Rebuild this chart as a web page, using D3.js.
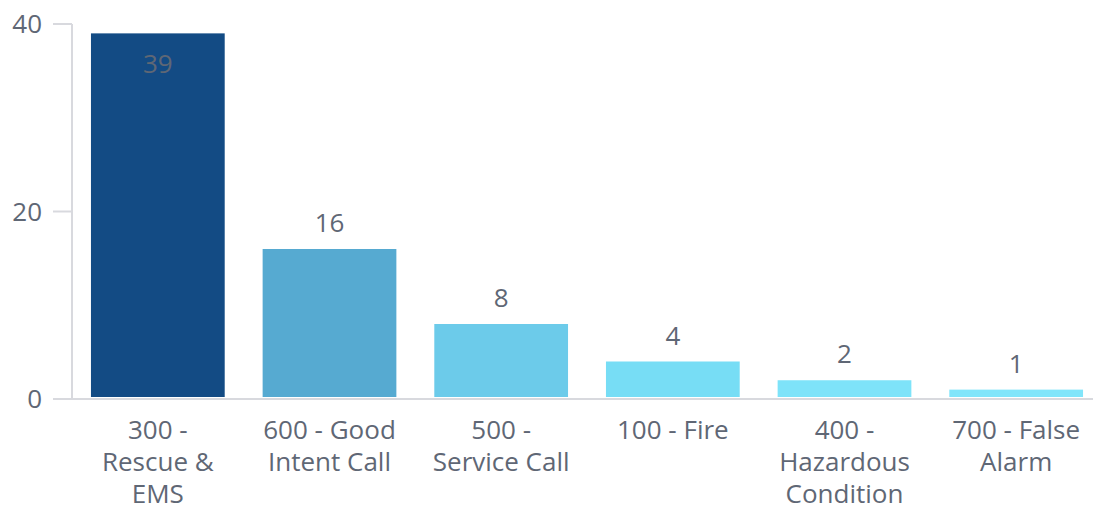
<!DOCTYPE html>
<html>
<head>
<meta charset="utf-8">
<style>
body { margin: 0; background: #fff; }
text { font-family: "Open Sans", sans-serif; }
</style>
</head>
<body>
<svg width="1093" height="510"></svg>
<script src="https://cdn.jsdelivr.net/npm/d3@7/dist/d3.min.js"></script>
<script>
var categories = ["300 - Rescue & EMS", "600 - Good Intent Call", "500 - Service Call", "100 - Fire", "400 - Hazardous Condition", "700 - False Alarm"];
var labelLines = [["300 -", "Rescue &", "EMS"], ["600 - Good", "Intent Call"], ["500 -", "Service Call"], ["100 - Fire"], ["400 -", "Hazardous", "Condition"], ["700 - False", "Alarm"]];
var counts = [39, 16, 8, 4, 2, 1];
var barColors = ["#134b84", "#56aad1", "#6ccbea", "#77ddf5", "#7ee3f9", "#81e5fa"];
var yTicks = [0, 20, 40];

var svg = d3.select("svg"),
    plotLeft = 72, plotRight = 1102, plotBottom = 399, plotTop = 24;

var x = d3.scaleBand().domain(categories).range([plotLeft, plotRight]).paddingInner(38 / 172).paddingOuter(19 / 172);
var y = d3.scaleLinear().domain([0, 40]).range([plotBottom, plotTop]);

// axes
svg.append("line").attr("x1", plotLeft).attr("x2", plotLeft).attr("y1", plotTop).attr("y2", plotBottom)
    .attr("stroke", "#d8d9de").attr("stroke-width", 2);
svg.append("line").attr("x1", 53).attr("x2", 1093).attr("y1", plotBottom).attr("y2", plotBottom)
    .attr("stroke", "#d8d9de").attr("stroke-width", 2);

var ticks = svg.append("g").selectAll("g").data(yTicks).enter().append("g");
ticks.append("line").attr("x1", 53).attr("x2", plotLeft).attr("y1", function(d) { return y(d); }).attr("y2", function(d) { return y(d); })
    .attr("stroke", "#d8d9de").attr("stroke-width", 2);
ticks.append("text").attr("x", 42).attr("y", function(d) { return y(d); }).attr("dy", "0.35em")
    .attr("text-anchor", "end").attr("font-size", 26).attr("fill", "#5f6775")
    .text(function(d) { return d; });

// bars
svg.append("g").selectAll("rect").data(counts).enter().append("rect")
    .attr("x", function(d, i) { return x(categories[i]); })
    .attr("y", function(d) { return y(d); })
    .attr("width", x.bandwidth())
    .attr("height", function(d) { return y(0) - y(d) - 2; })
    .attr("fill", function(d, i) { return barColors[i]; });

// value labels
svg.append("g").selectAll("text").data(counts).enter().append("text")
    .attr("x", function(d, i) { return x(categories[i]) + x.bandwidth() / 2; })
    .attr("y", function(d) { return y(d) < 60 ? y(d) + 40 : y(d) - 17; })
    .attr("text-anchor", "middle").attr("font-size", 26).attr("fill", "#5f6775")
    .text(function(d) { return d; });

// category labels
var cat = svg.append("g").selectAll("text").data(labelLines).enter().append("text")
    .attr("text-anchor", "middle").attr("font-size", 26).attr("fill", "#5f6775")
    .attr("transform", function(d, i) { return "translate(" + (x(categories[i]) + x.bandwidth() / 2) + ",439)"; });
cat.selectAll("tspan").data(function(d) { return d; }).enter().append("tspan")
    .attr("x", 0).attr("y", function(d, j) { return j * 32; })
    .text(function(d) { return d; });
</script>
</body>
</html>
